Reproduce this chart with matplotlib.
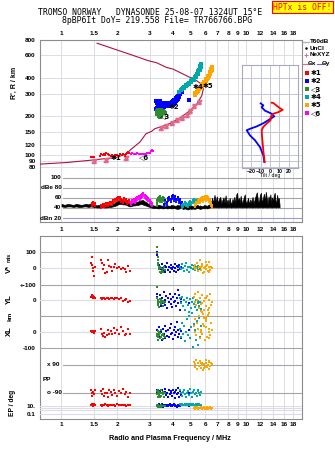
import numpy as np
import matplotlib
matplotlib.use('Agg')
import matplotlib.pyplot as plt
import matplotlib.transforms as mtransforms
from matplotlib.ticker import FixedLocator, FixedFormatter, NullLocator, NullFormatter

# ---------------- data ----------------
freq_ticks = [1, 1.5, 2, 3, 4, 5, 6, 7, 8, 9, 10, 12, 14, 16, 18]
freq_labels = ['1', '1.5', '2', '3', '4', '5', '6', '7', '8', '9', '10', '12', '14', '16', '18']
height_ticks = [80, 90, 100, 120, 150, 200, 300, 400, 600, 800]
height_labels = ['80', '90', '100', '120', '150', '200', '300', '400', '600', '800']
amp_levels = [100, 80, 60, 40, 20]
amp_level_labels = ['100', 'dBe 80', '60', '40', 'dBn 20']
tilt_ticks = [-20, -10, 0, 10, 20]

# real-height profile (plasma frequency MHz, height km)
prof_f = [0.77, 1.067, 1.43, 1.99, 2.25, 2.37, 2.66, 2.87, 3.08, 3.21, 3.42, 3.87, 4.39, 4.97,
          5.41, 5.76, 5.87, 5.76, 5.41, 4.03, 3.70, 3.28, 2.94, 2.66, 1.56]
prof_h = [84.8, 87.2, 90.8, 95.6, 102, 110, 126, 146.5, 153, 160.7, 165, 176, 195, 222,
          250, 291, 328, 357, 380, 469, 484, 526, 547, 576, 748]
nxyz_f = [1.50, 1.75, 2.24, 3.48, 3.70, 3.98, 4.24, 4.51, 4.76, 4.97, 5.25, 5.53]
nxyz_h = [89, 91, 94, 162, 168, 178, 186, 195, 205, 222, 240, 258]

# echoes in the height panel
e1_f = [1.44, 1.47, 1.50, 1.62, 1.64, 1.67, 1.70, 1.72, 1.75, 1.78, 1.82, 1.85, 1.88, 1.92, 1.96,
        2.00, 2.04, 2.08, 2.12, 2.16, 2.20, 2.24, 2.27, 2.30, 2.32]
e1_h = [96, 96, 96, 98, 101, 100, 102, 99, 103, 101, 100, 98, 100, 97, 99,
        100, 98, 101, 99, 102, 98, 101, 104, 106, 103]
e6_f = [2.38, 2.42, 2.46, 2.50, 2.54, 2.58, 2.62, 2.66, 2.70, 2.74, 2.78, 2.82, 2.86, 2.90, 2.95,
        3.00, 3.05, 3.08, 3.12]
e6_h = [101, 103, 102, 101, 102, 103, 101, 102, 101, 102, 102, 101, 102, 103, 104,
        104, 107, 109, 108]
e2_f = [3.26, 3.28, 3.30, 3.33, 3.36, 3.40, 3.44, 3.48, 3.52, 3.56, 3.60, 3.65, 3.70, 3.75, 3.80,
        3.85, 3.90, 3.95, 4.00, 4.05, 4.10, 4.15, 4.20, 4.25, 4.30, 4.35, 4.40, 4.45, 4.48,
        3.26, 3.30, 3.35, 3.40, 3.46, 3.52, 3.58, 3.64, 3.70, 3.76, 3.82, 3.88, 3.94, 4.00, 4.06,
        4.12, 4.18, 4.24, 4.30, 4.36, 4.93]
e2_h = [262, 258, 255, 252, 258, 262, 256, 252, 250, 254, 256, 250, 248, 250, 253,
        255, 256, 260, 264, 268, 270, 274, 278, 284, 290, 296, 302, 308, 312,
        228, 232, 236, 244, 242, 240, 238, 240, 241, 243, 242, 244, 246, 248, 252,
        256, 262, 268, 274, 282, 271]
e3_f = [3.28, 3.30, 3.33, 3.36, 3.40, 3.44, 3.48, 3.52, 3.56, 3.30, 3.34, 3.38, 3.42, 3.46, 3.50,
        3.36, 3.40, 3.44, 3.48, 3.60, 3.65]
e3_h = [222, 215, 226, 218, 224, 220, 224, 218, 222, 208, 212, 206, 212, 208, 214,
        200, 198, 203, 200, 216, 212]
e4_f = [4.36, 4.42, 4.48, 4.55, 4.62, 4.70, 4.78, 4.86, 4.94, 5.02, 5.10, 5.18, 5.26, 5.34, 5.40,
        5.46, 5.52, 5.57, 5.62, 5.66, 5.70, 5.72,
        4.45, 4.60, 4.75, 4.90, 5.05, 5.20, 5.35, 5.50, 5.60, 5.68]
e4_h = [312, 320, 326, 334, 340, 346, 352, 360, 368, 376, 388, 396, 404, 416, 428,
        440, 452, 464, 478, 492, 505, 518,
        322, 334, 350, 360, 372, 388, 408, 432, 458, 486]
e5_f = [5.26, 5.32, 5.40, 5.48, 5.56, 5.64, 5.72, 5.80, 5.88, 5.96, 6.04, 6.12, 6.20, 6.28, 6.36,
        6.42, 6.48, 6.52,
        5.35, 5.50, 5.65, 5.80, 5.95, 6.10, 6.25, 6.40, 6.50, 6.55]
e5_h = [295, 303, 311, 318, 326, 334, 342, 350, 358, 368, 378, 390, 402, 414, 426,
        438, 450, 462,
        306, 320, 336, 356, 374, 394, 418, 442, 474, 490]
echo_tags = ['\u27311', '\u25c16', '\u25c13', '\u27312', '\u27314', '\u27315']
tag_f = [1.98, 2.80, 3.66, 4.05, 5.49, 6.18]
tag_h = [94, 96, 202, 239, 340, 347]

# amplitude trace (black)
amp_f = [1.00, 1.04, 1.08, 1.12, 1.16, 1.20, 1.24, 1.28, 1.32, 1.36, 1.40, 1.44,
         1.50, 1.55, 1.60, 1.65, 1.70, 1.75, 1.80, 1.85, 1.90, 1.95, 2.00,
         2.05, 2.10, 2.15, 2.20, 2.25, 2.30, 2.35, 2.40, 2.45, 2.50, 2.55, 2.60, 2.65, 2.70, 2.75,
         2.80, 2.85, 2.90, 2.95, 3.00,
         3.05, 3.15, 3.25, 3.35, 3.45, 3.55, 3.65, 3.75, 3.85, 3.95, 4.05, 4.15, 4.25, 4.35, 4.45,
         4.55, 4.65, 4.75, 4.85, 4.95, 5.05, 5.15, 5.25, 5.35, 5.45, 5.55, 5.65, 5.75, 5.85, 5.95,
         6.05, 6.15, 6.25, 6.35, 6.45,
         6.55, 6.65, 6.75, 6.85, 6.95, 7.05, 7.15, 7.25, 7.35, 7.45,
         7.55, 7.65, 7.75, 7.85, 7.95, 8.05, 8.15, 8.25, 8.35, 8.45,
         8.55, 8.65, 8.75, 8.85, 8.95, 9.05, 9.15, 9.25, 9.35, 9.45,
         9.55, 9.65, 9.75, 9.85, 9.95, 10.1, 10.25, 10.4, 10.55, 10.7,
         10.85, 11.0, 11.15, 11.3, 11.45, 11.6, 11.75, 11.9, 12.05, 12.2,
         12.35, 12.5, 12.65, 12.8, 12.95, 13.1, 13.25, 13.4, 13.55, 13.7,
         13.85, 14.0, 14.15, 14.3, 14.45, 14.6, 14.75, 14.9, 15.05, 15.2]
amp_hi = [48, 46, 48, 47, 46, 48, 47, 46, 47, 48, 47, 49,
          47, 45, 46, 45, 46, 45, 47, 46, 48, 50, 53,
          55, 56, 54, 55, 52, 50, 48, 50, 51, 50, 52, 53, 54, 55, 56, 54, 52, 51, 48, 47,
          46, 45, 44, 46, 45, 44, 43, 45, 44, 46, 45, 44, 46, 45, 43, 44, 45, 42, 44, 46,
          45, 43, 44, 45, 46, 44, 45, 43, 44, 46, 45, 44, 46, 47, 48,
          60, 50, 66, 52, 63, 49, 58, 62, 48, 56,
          61, 50, 65, 49, 57, 47, 60, 51, 49, 58,
          52, 62, 48, 66, 70, 50, 60, 49, 64, 55,
          48, 56, 62, 67, 52, 50, 60, 47, 57, 50,
          62, 48, 58, 65, 71, 55, 50, 66, 70, 50,
          58, 68, 52, 72, 60, 48, 63, 55, 67, 50,
          61, 52, 64, 70, 55, 48, 66, 54, 60, 46]
amp_lo = [43, 42, 43, 43, 42, 43, 42, 42, 43, 43, 42, 43,
          42, 41, 41, 42, 41, 41, 42, 42, 43, 44, 46,
          48, 48, 47, 47, 46, 44, 43, 44, 45, 45, 46, 46, 47, 48, 47, 46, 45, 44, 43, 42,
          41, 40, 40, 39, 40, 39, 40, 39, 40, 39, 40, 39, 38, 39, 40, 38, 39, 38, 37, 39,
          38, 39, 38, 39, 40, 39, 38, 39, 40, 39, 40, 39, 40, 41, 41,
          42, 41, 42, 41, 42, 41, 41, 42, 41, 42,
          41, 42, 41, 41, 42, 41, 42, 41, 41, 42,
          41, 42, 41, 41, 42, 41, 42, 41, 42, 41,
          41, 42, 41, 42, 41, 41, 42, 41, 42, 41,
          41, 42, 41, 42, 41, 41, 42, 41, 42, 41,
          41, 42, 41, 42, 41, 41, 42, 41, 42, 41,
          41, 42, 41, 42, 41, 41, 42, 41, 42, 41]

# echo amplitudes (dB)
a1_f = [1.46, 1.49, 1.52, 1.63, 1.67, 1.71, 1.75, 1.79, 1.83, 1.87, 1.91, 1.95, 1.99, 2.03, 2.07,
        2.11, 2.15, 2.19, 2.23, 2.27, 2.31]
a1_v = [50, 52, 49, 46, 48, 47, 50, 49, 52, 51, 55, 57, 60, 62, 61, 58, 56, 60, 57, 54, 55]
a6_f = [2.38, 2.42, 2.46, 2.50, 2.54, 2.58, 2.62, 2.66, 2.70, 2.74, 2.78, 2.82, 2.86, 2.90, 2.95,
        3.00, 3.05, 3.10]
a6_v = [52, 55, 58, 56, 60, 62, 63, 61, 66, 68, 69, 66, 64, 62, 59, 55, 52, 50]
a3_f = [3.28, 3.31, 3.34, 3.37, 3.40, 3.43, 3.46, 3.50, 3.54, 3.58, 3.62, 3.66]
a3_v = [50, 55, 60, 62, 58, 64, 60, 57, 62, 59, 55, 52]
a2_f = [3.60, 3.66, 3.72, 3.78, 3.84, 3.90, 3.96, 4.02, 4.08, 4.14, 4.20, 4.26, 4.32, 4.38, 4.44,
        4.50, 4.56]
a2_v = [48, 55, 52, 60, 62, 58, 64, 66, 60, 63, 58, 62, 55, 57, 50, 52, 48]
a4_f = [4.50, 4.58, 4.66, 4.74, 4.82, 4.90, 4.98, 5.06, 5.14, 5.22, 5.30, 5.38, 5.46, 5.54]
a4_v = [45, 48, 52, 50, 47, 51, 54, 52, 55, 57, 53, 56, 58, 55]
a5_f = [5.30, 5.38, 5.46, 5.54, 5.62, 5.70, 5.78, 5.86, 5.94, 6.02, 6.10, 6.18, 6.26, 6.34, 6.42,
        6.50, 6.58]
a5_v = [48, 52, 55, 58, 56, 60, 62, 58, 61, 63, 60, 64, 62, 58, 55, 50, 46]

# tilt profiles (deg, km)
thx_deg = [1.8, 3.5, 7.1, 10.7, 13.6, 8.9, 3.5, 0.7, 0.7, -3.5, -7.1, -8.9, -8.6, -7.8, -7.1, -6.4, -5.7]
thx_h = [256, 255, 243, 232, 225, 216, 210, 198, 187, 176, 166, 156, 142, 122, 107, 97, 88]
thy_deg = [-10, -7.1, -9, -5.4, -1.8, 1.8, 4.5, -1.8, -7.1, -14.3, -21.4, -25, -21.4, -16, -10.7, -7.1, -6.1]
thy_h = [253, 244, 236, 222, 216, 210, 200, 187, 177, 167, 160, 156, 142, 130, 115, 99, 88]

# lower panel echo parameters
r_f = [1.45, 1.46, 1.47, 1.48, 1.49, 1.50, 1.51, 1.64, 1.66, 1.68, 1.70, 1.73, 1.76, 1.79, 1.82,
       1.85, 1.88, 1.92, 1.96, 2.00, 2.05, 2.10, 2.15, 2.20, 2.25, 2.30, 2.34]
r_V = [34, 67, 20, 0, -17, -47, 10, 47, 31, -6, 20, -31, -21, 47, 14, 6, -15, 10, 26, 0, 10, -6, 0, -6, -21, 14, -15]
r_YL = [20, 31, 25, 15, 22, 18, 12, 10, 8, 12, 10, 8, 12, 10, 6, 10, 12, 8, 10, 12, 6, 10, -4, 2, 8, -10, -5]
r_XL = [6, 0, -3, 8, 2, -6, 4, 20, -10, -25, -5, -30, -20, 15, -15, 5, -10, 25, -5, 10, -15, 30, 5, -20, -10, 20, -15]
r_PP = [-70, -90, -110, -85, -95, -100, -75, -80, -100, -65, -110, -90, -95, -120, -75, -85, -105,
        -70, -90, -110, -80, -95, -65, -100, -85, -115, -90]
r_EP = [20, 12, 30, 15, 10, 25, 18, 15, 10, 20, 12, 25, 15, 8, 18, 20, 12, 15, 10, 22, 14, 18, 12, 16, 10, 20, 15]

g_f = [3.30, 3.31, 3.32, 3.33, 3.34, 3.35, 3.37, 3.39, 3.41, 3.43, 3.45, 3.47, 3.50, 3.53, 3.56, 3.60, 3.63]
g_V = [129, 92, 71, 51, 34, 20, 6, -6, -21, 10, -31, 0, -15, -6, -21, 5, -10]
g_YL = [79, 10, -5, -20, 0, -30, -10, -42, 5, -15, -25, 0, -10, -35, -5, -20, -12]
g_XL = [-10, -25, 5, -35, -15, -51, -20, 0, -40, -5, -30, 15, -20, -45, -10, -25, -30]
g_PP = [-80, -100, -90, -115, -70, -95, -105, -85, -120, -90, -75, -110, -95, -100, -85, -115, -90]
g_EP = [8, 12, 6, 10, 14, 7, 9, 11, 5, 8, 12, 6, 9, 10, 7, 8, 11]

b_f = [3.30, 3.31, 3.36, 3.42, 3.46, 3.50, 3.54, 3.58, 3.62, 3.66, 3.70, 3.74, 3.78, 3.82, 3.86,
       3.90, 3.94, 3.98, 4.02, 4.06, 4.10, 4.14, 4.18, 4.22, 4.26, 4.30, 4.34, 4.38, 4.42, 4.46, 4.93]
b_V = [100, 78, 20, 10, -5, 25, 0, -15, 15, -20, 5, 30, -10, 10, -25, 0, 20, -5, 10, -15,
       25, 0, -20, 15, 5, -10, 20, -5, 10, 0, 8]
b_YL = [40, 20, -10, 30, -40, 10, -20, 50, 0, -30, 25, -50, 15, -10, 35, -25, 5, -45, 20, -15,
        40, -5, -35, 10, 62, -20, 30, -60, 5, -10, -20]
b_XL = [10, -20, 30, -30, 0, -50, 20, -10, 40, -40, 5, -25, 15, -35, 25, -15, 50, -5, -45, 10,
        -20, 30, 0, 66, -30, 15, -10, 20, -40, 5, 10]
b_PP = [-70, -90, -100, -80, -110, -75, -95, -120, -85, -65, -105, -90, -115, -70, -100, -80, -95,
        -110, -75, -90, -125, -85, -70, -100, -60, -95, -115, -80, -90, -105, -90]
b_EP = [15, 10, 25, 8, 12, 30, 6, 14, 20, 9, 11, 18, 7, 13, 25, 10, 16, 8, 12, 22,
        9, 15, 11, 6, 19, 10, 14, 8, 12, 17, 10]

t_f = [4.40, 4.45, 4.50, 4.56, 4.62, 4.68, 4.74, 4.80, 4.86, 4.92, 4.98, 5.04, 5.10, 5.16, 5.22,
       5.28, 5.34, 5.40, 5.46, 5.52, 5.58, 5.64, 5.70]
t_V = [10, -5, 25, 0, -15, 15, 30, -10, 5, -20, 10, 0, 20, -5, 15, -10, 5, 0, 12, -8, 6, -2, 10]
t_YL = [10, -20, 21, -40, 0, -60, -10, 15, -30, -73, 5, -50, -15, 10, -25, -45, 0, -65, -20, -5, -35, -10, -55]
t_XL = [20, -30, 60, -10, 40, -60, 0, 80, -20, 100, -40, 30, 119, -94, 50, 10, -50, 70, -80, 20, 90, -30, 40]
t_PP = [-75, -95, -110, -85, -70, -100, -120, -90, -80, -105, -65, -95, -115, -85, -75, -100, -90,
        -110, -80, -70, -95, -105, -85]
t_EP = [25, 15, 30, 12, 20, 35, 18, 22, 14, 28, 16, 24, 19, 30, 13, 21, 26, 17, 23, 15, 27, 20, 18]

o_f = [5.20, 5.26, 5.32, 5.38, 5.44, 5.50, 5.56, 5.62, 5.68, 5.74, 5.80, 5.86, 5.92, 5.98, 6.04,
       6.10, 6.16, 6.22, 6.28, 6.34, 6.40, 6.46, 6.52, 6.30, 6.10, 5.90, 5.70]
o_V = [10, -5, 20, 0, 30, -15, 5, 47, -10, 15, 25, -27, 0, 10, 35, -5, 20, -15, 5, 40, -10, 10, 0, -20, 15, -25, 5]
o_YL = [20, -10, 40, -30, 0, 52, -50, 10, -70, -20, 30, -90, -5, 15, -40, -104, 25, -60, 0, -80,
        35, -30, -15, -50, 10, -65, -25]
o_XL = [40, 0, 80, -20, 60, 20, 100, -40, 10, 130, -10, 50, 90, -51, 30, 70, -30, 110, 0, 20,
        -20, 60, 10, -40, 80, 40, 0]
o_PP = [110, 75, 95, 120, 65, 100, 85, 115, 70, 90, 105, 60, 95, 80, 120, 100, 75, 90, 110, 65,
        85, 100, 95, 115, 80, 70, 105]
o_EP = [3, 2, 4, 2.5, 5, 1.8, 3.5, 2.2, 4.5, 2, 3, 2.4, 4, 1.6, 3.2, 2.6, 5, 2, 3, 2.4,
        4, 1.7, 2.8, 3.6, 2, 4.2, 2.4]

legend_tags = ['\u27311', '\u27312', '\u25c13', '\u27314', '\u27315', '\u25c16']

# ---------------- style ----------------
W, H, DPI = 335, 451, 100
plt.rcParams['font.family'] = ['Liberation Sans', 'DejaVu Sans']
plt.rcParams['font.weight'] = 'bold'
TS = 4.6
GRID = '#dcdce6'
FRAME = '#8c8c8c'
DARK = '#a4a4a4'
PROF = '#b01040'
PINK = '#e06888'
RED, BLUE, GREEN, TEAL, ORANGE, MAG = '#ff0000', '#0000ff', '#2e8b2e', '#00a8a8', '#ffa500', '#ff00ff'

fig = plt.figure(figsize=(W / DPI, H / DPI), dpi=DPI)


def add_px(x0, y0, x1, y1, **kw):
    return fig.add_axes([x0 / W, 1 - y1 / H, (x1 - x0) / W, (y1 - y0) / H], **kw)


def lin_lim(p1, v1, p2, v2, pa, pb):
    s = (v2 - v1) / (p2 - p1)
    return (v1 + (pa - p1) * s, v1 + (pb - p1) * s)


def log_lim(p1, v1, p2, v2, pa, pb):
    a, b = lin_lim(p1, np.log10(v1), p2, np.log10(v2), pa, pb)
    return (10 ** a, 10 ** b)


XL0, XL1 = 40, 302
XLIM = log_lim(61.5, 1, 246, 10, XL0, XL1)
AXW = XL1 - XL0


def freq_style(ax, grid=True):
    ax.set_xscale('log')
    ax.set_xlim(XLIM)
    ax.xaxis.set_major_locator(FixedLocator(freq_ticks))
    ax.xaxis.set_major_formatter(FixedFormatter(freq_labels))
    ax.xaxis.set_minor_locator(NullLocator())
    ax.xaxis.set_minor_formatter(NullFormatter())
    ax.tick_params(axis='both', which='both', length=0, labelsize=TS)
    if grid:
        ax.grid(axis='x', color=GRID, lw=0.7)
    ax.set_axisbelow(True)
    for s in ax.spines.values():
        s.set_color(FRAME)
        s.set_linewidth(0.8)


# ---------- height panel ----------
ax_h = add_px(XL0, 39.5, XL1, 171)
freq_style(ax_h)
ax_h.xaxis.tick_top()
ax_h.tick_params(axis='x', labeltop=True, labelbottom=False, pad=2.6)
ax_h.set_yscale('log')
ax_h.set_ylim(log_lim(167.3, 80, 39.5, 800, 171, 39.5))
ax_h.yaxis.set_major_locator(FixedLocator(height_ticks))
ax_h.yaxis.set_major_formatter(FixedFormatter(height_labels))
ax_h.yaxis.set_minor_locator(NullLocator())
ax_h.yaxis.set_minor_formatter(NullFormatter())
ax_h.tick_params(axis='y', length=0, labelsize=TS, pad=3.2)
ax_h.grid(axis='y', color=GRID, lw=0.7)
ax_h.spines['bottom'].set_visible(False)

ax_h.plot(prof_f, prof_h, color=PROF, lw=0.8, zorder=3)
ax_h.plot(nxyz_f, nxyz_h, ls='none', marker='$z$', ms=3.2, color=PINK, zorder=4)
sq = dict(ls='none', marker='s', mew=0, zorder=5)
ax_h.plot(e1_f, e1_h, color=RED, ms=2.1, **sq)
ax_h.plot(e6_f, e6_h, color=MAG, ms=2.1, **sq)
ax_h.plot(e2_f, e2_h, color=BLUE, ms=2.3, **sq)
ax_h.plot(e3_f, e3_h, color=GREEN, ms=2.3, **sq)
ax_h.plot(e4_f, e4_h, color=TEAL, ms=2.3, **sq)
ax_h.plot(e5_f, e5_h, color=ORANGE, ms=2.3, **sq)
for t, f, h in zip(echo_tags, tag_f, tag_h):
    ax_h.text(f, h, t, fontsize=5, ha='center', va='center', color='black', zorder=6,
              family=['DejaVu Sans'])

# ---------- amplitude panel ----------
ax_a = add_px(XL0, 171, XL1, 221.5)
freq_style(ax_a)
ax_a.tick_params(axis='x', pad=4.2)
ax_a.set_ylim(lin_lim(177.7, 100, 218, 20, 221.5, 171))
ax_a.set_yticks([])
ax_a.spines['top'].set_visible(False)
lvl_x = (63 - XL0) / AXW
lab_x = (61.5 - XL0) / AXW
btr = mtransforms.blended_transform_factory(ax_a.transAxes, ax_a.transData)
for lv, lb in zip(amp_levels, amp_level_labels):
    ax_a.axhline(lv, xmin=lvl_x, color=('#9c9cd4' if lv == 20 else DARK), lw=0.8, zorder=1)
    ax_a.text(lab_x, lv, lb, transform=btr, ha='right', va='center', fontsize=TS)
ax_a.fill_between(amp_f, amp_lo, amp_hi, color='black', lw=0.5, edgecolor='black', zorder=3)
for fv, av, c in [(a1_f, a1_v, RED), (a6_f, a6_v, MAG), (a3_f, a3_v, GREEN),
                  (a2_f, a2_v, BLUE), (a4_f, a4_v, TEAL), (a5_f, a5_v, ORANGE)]:
    av = np.array(av, dtype=float)
    ax_a.vlines(fv, av - 8, av, color=c, lw=1.3, zorder=4)
    ax_a.plot(fv, av, color=c, ms=2.0, **sq)

# ---------- tilt inset ----------
ax_t = add_px(242, 65, 298, 168)
ax_t.set_facecolor('white')
ax_t.set_xlim(-30, 30)
ax_t.set_yscale('log')
ax_t.set_ylim(log_lim(167.3, 80, 39.5, 800, 168, 65))
ax_t.xaxis.set_major_locator(FixedLocator(tilt_ticks))
ax_t.yaxis.set_major_locator(FixedLocator(height_ticks))
ax_t.yaxis.set_minor_locator(NullLocator())
ax_t.yaxis.set_major_formatter(NullFormatter())
ax_t.yaxis.set_minor_formatter(NullFormatter())
ax_t.tick_params(axis='both', which='both', length=0, labelsize=3.8, pad=0.6)
ax_t.grid(True, color='#c4c4d8', lw=0.7)
ax_t.set_axisbelow(True)
for s in ax_t.spines.values():
    s.set_color('#a8a8c0')
    s.set_linewidth(0.8)
ax_t.set_xlabel('Tilt / deg', fontsize=3.8, labelpad=-0.5)
ax_t.plot(thy_deg, thy_h, color=BLUE, lw=1.3)
ax_t.plot(thx_deg, thx_h, color=RED, lw=1.3)

# ---------- lower panel ----------
LT, LB = 236, 418.5
ax_l = add_px(XL0, LT, XL1, LB)
freq_style(ax_l)
ax_l.tick_params(axis='x', pad=2.6)
ax_l.set_yticks([])


def overlay(ylim, ticks, labels, log=False):
    ax = add_px(XL0, LT, XL1, LB)
    ax.set_facecolor('none')
    for s in ax.spines.values():
        s.set_visible(False)
    ax.set_xscale('log')
    ax.set_xlim(XLIM)
    ax.set_xticks([])
    ax.xaxis.set_minor_locator(NullLocator())
    if log:
        ax.set_yscale('log')
    ax.set_ylim(ylim)
    ax.yaxis.set_major_locator(FixedLocator(ticks))
    ax.yaxis.set_major_formatter(FixedFormatter(labels))
    ax.yaxis.set_minor_locator(NullLocator())
    ax.yaxis.set_minor_formatter(NullFormatter())
    ax.tick_params(axis='both', which='both', length=0, labelsize=TS, pad=3.0)
    return ax


ax_v = overlay(lin_lim(268.3, 0, 251.7, 100, LB, LT), [100, 0, -100], ['100', '0', '+-100'])
ax_yl = overlay(lin_lim(300, 0, 316, -100, LB, LT), [0], ['0'])
ax_xl = overlay(lin_lim(332, 0, 347.7, -100, LB, LT), [0, -100], ['0', '-100'])
ax_pp = overlay(lin_lim(365, 90, 392.7, -90, LB, LT), [], [])
ax_ep = overlay(log_lim(405.8, 10, 413.6, 0.1, LB, LT), [10, 0.1], ['10.', '0.1'], log=True)

ax_v.axhline(100, color=DARK, lw=0.8)
ax_v.axhline(0, color=GRID, lw=0.8)
ax_v.axhline(-100, color=DARK, lw=0.8)
ax_yl.axhline(0, color=GRID, lw=0.8)
ax_yl.axhline(-100, color=DARK, lw=0.8)
ax_xl.axhline(0, color=GRID, lw=0.8)
ax_xl.axhline(-100, color=DARK, lw=0.8)
ax_pp.axhline(90, xmin=lvl_x, color=DARK, lw=0.8)
ax_pp.axhline(-90, xmin=lvl_x, color=DARK, lw=0.8)
for lv in [10, 3, 1, 0.1]:
    ax_ep.axhline(lv, color=GRID, lw=0.8)
ptr = mtransforms.blended_transform_factory(ax_pp.transAxes, ax_pp.transData)
ax_pp.text((47 - XL0) / AXW, 90, 'x 90', transform=ptr, ha='left', va='center', fontsize=TS)
ax_pp.text((47 - XL0) / AXW, -90, 'o -90', transform=ptr, ha='left', va='center', fontsize=TS)
ax_pp.text((43 - XL0) / AXW, -4, 'PP', transform=ptr, ha='left', va='center', fontsize=TS)

ms_l = 1.5
for fv, V, YL, XLv, PP, EP, c in [
        (r_f, r_V, r_YL, r_XL, r_PP, r_EP, RED),
        (b_f, b_V, b_YL, b_XL, b_PP, b_EP, BLUE),
        (g_f, g_V, g_YL, g_XL, g_PP, g_EP, GREEN),
        (t_f, t_V, t_YL, t_XL, t_PP, t_EP, TEAL),
        (o_f, o_V, o_YL, o_XL, o_PP, o_EP, ORANGE)]:
    ax_v.plot(fv, V, color=c, ms=ms_l, **sq)
    ax_yl.plot(fv, YL, color=c, ms=ms_l, **sq)
    ax_xl.plot(fv, XLv, color=c, ms=ms_l, **sq)
    ax_pp.plot(fv, PP, color=c, ms=ms_l, **sq)
    ax_ep.plot(fv, EP, color=c, ms=ms_l, **sq)

# ---------- legend ----------
ax_g = add_px(302, 34, 335, 122)
ax_g.set_xlim(302, 335)
ax_g.set_ylim(122, 34)
ax_g.axis('off')
LS = 4.6
ax_g.plot([302.5, 309], [41.7, 41.7], color='#b4b4b4', lw=1.0)
ax_g.text(310, 41.7, 'T60dB', fontsize=LS, va='center')
ax_g.plot([306], [48.3], ls='none', marker='.', ms=1.6, color='black')
ax_g.text(310, 48.3, 'UnCl', fontsize=LS, va='center')
ax_g.plot([306], [55], ls='none', marker='+', ms=3.5, mew=0.7, color=PINK)
ax_g.text(310, 55, 'NeXYZ', fontsize=LS, va='center')
ax_g.plot([302.5, 307.5], [63.5, 63.5], color=PINK, lw=0.8)
ax_g.text(308, 63.5, '\u0398x', fontsize=LS, va='center')
ax_g.plot([316.5, 321.5], [63.5, 63.5], color='#6060ff', lw=0.8)
ax_g.text(322, 63.5, '\u0398y', fontsize=LS, va='center')
for i, (c, lab) in enumerate(zip([RED, BLUE, GREEN, TEAL, ORANGE, MAG], legend_tags)):
    y = 73.3 + i * 7.9
    ax_g.plot([306.7], [y], ls='none', marker='s', ms=2.2, mew=0, color=c)
    ax_g.text(310.5, y, lab, fontsize=5, va='center', family=['DejaVu Sans'])

# ---------- texts ----------
MONO = 'DejaVu Sans Mono'
fig.text(150 / W, 1 - 12.3 / H, 'TROMSO NORWAY   DYNASONDE 25-08-07 1324UT 15\u00b0E',
         ha='center', va='center', family=MONO, fontsize=5.9, weight='normal')
fig.text(156.7 / W, 1 - 20.7 / H, '8pBP6It DoY= 219.558 File= TR766766.BPG',
         ha='center', va='center', family=MONO, fontsize=5.9, weight='normal')
fig.text(302.3 / W, 1 - 7.2 / H, 'HPTx is OFF!', ha='center', va='center', family=MONO,
         fontsize=5.9, weight='normal', color='red',
         bbox=dict(boxstyle='square,pad=0.18', fc='yellow', ec='red', lw=0.8))
fig.text(14.2 / W, 1 - 83.3 / H, "R', R / km", rotation=90, ha='center', va='center', fontsize=5)
fig.text(9 / W, 1 - 269 / H, 'V*', rotation=90, ha='center', va='center', fontsize=5.5)
fig.text(9 / W, 1 - 257.5 / H, 'm/s', rotation=90, ha='center', va='center', fontsize=3.8)
fig.text(9 / W, 1 - 299 / H, 'YL', rotation=90, ha='center', va='center', fontsize=5.5)
fig.text(9.5 / W, 1 - 316.5 / H, 'km', rotation=90, ha='center', va='center', fontsize=4.6)
fig.text(9 / W, 1 - 331.5 / H, 'XL', rotation=90, ha='center', va='center', fontsize=5.5)
fig.text(12.5 / W, 1 - 403 / H, 'EP / deg', rotation=90, ha='center', va='center', fontsize=4.8)
fig.text(170 / W, 1 - 439 / H, 'Radio and Plasma Frequency / MHz', ha='center', va='center',
         fontsize=5.2)

fig.savefig('out.png', dpi=DPI)
